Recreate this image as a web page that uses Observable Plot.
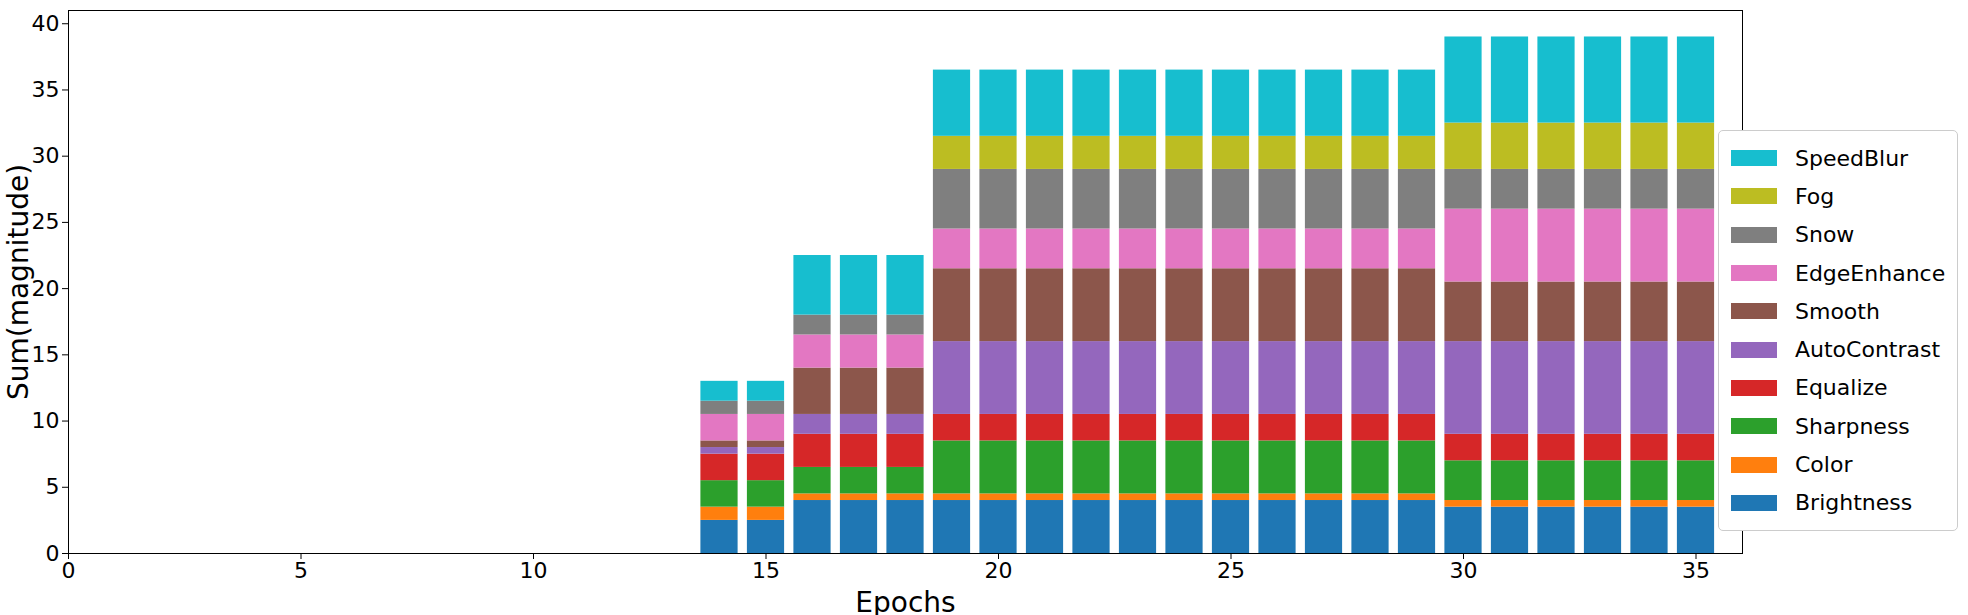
<!DOCTYPE html>
<html><head><meta charset="utf-8">
<script src="https://cdn.jsdelivr.net/npm/d3@7"></script>
<script src="https://cdn.jsdelivr.net/npm/@observablehq/plot@0.6"></script>
<style>
body{margin:0;background:#fff;font-family:"DejaVu Sans",sans-serif}
#wrap{position:relative;width:1968px;height:615px}
#legend{position:absolute;left:1718px;top:130px;border:1px solid #ccc;border-radius:5px;padding:8px 12px;background:#fff;font-size:22px}
#legend div{display:flex;align-items:center;height:38.3px}
#legend span.sw{width:46px;height:16px;margin-right:18px;display:inline-block}
</style></head><body>
<div id="wrap"><div id="chart"></div><div id="legend"></div></div>
<script>
const categories = ['Brightness','Color','Sharpness','Equalize','AutoContrast','Smooth','EdgeEnhance','Snow','Fog','SpeedBlur'];
const colors = ['#1f77b4','#ff7f0e','#2ca02c','#d62728','#9467bd','#8c564b','#e377c2','#7f7f7f','#bcbd22','#17becf'];
const epochs = d3.range(14, 36);
// magnitude per category, by epoch group
const phaseA = [2.5, 1, 2, 2, 0.5, 0.5, 2, 1, 0, 1.5];      // 14-15
const phaseB = [4, 0.5, 2, 2.5, 1.5, 3.5, 2.5, 1.5, 0, 4.5]; // 16-18
const phaseC = [4, 0.5, 4, 2, 5.5, 5.5, 3, 4.5, 2.5, 5];     // 19-29
const phaseD = [3.5, 0.5, 3, 2, 7, 4.5, 5.5, 3, 3.5, 6.5];   // 30-35

function valuesFor(e) {
  return e <= 15 ? phaseA : e <= 18 ? phaseB : e <= 29 ? phaseC : phaseD;
}

const rows = [];
for (const e of epochs) {
  let acc = 0;
  valuesFor(e).forEach((v, i) => {
    rows.push({epoch: e, cat: categories[i], y1: acc, y2: acc + v});
    acc += v;
  });
}

const chart = Plot.plot({
  width: 1968, height: 615,
  marginLeft: 68, marginRight: 226, marginTop: 10, marginBottom: 62,
  style: {fontSize: '22px', fontFamily: '"DejaVu Sans", sans-serif', color: '#000'},
  x: {domain: [0, 36], ticks: d3.range(0, 36, 5), label: 'Epochs', labelAnchor: 'center', labelArrow: 'none', labelOffset: 58, tickSize: 6},
  y: {domain: [0, 41], ticks: d3.range(0, 41, 5), label: 'Sum(magnitude)', labelAnchor: 'center', labelArrow: 'none', labelOffset: 60, tickSize: 6},
  color: {domain: categories, range: colors},
  marks: [
    Plot.rect(rows, {x1: d => d.epoch - 0.4, x2: d => d.epoch + 0.4, y1: 'y1', y2: 'y2', fill: 'cat'}),
    Plot.frame({stroke: '#000'})
  ]
});
document.getElementById('chart').append(chart);
chart.querySelectorAll('[aria-label="x-axis label"] text, [aria-label="y-axis label"] text').forEach(t => t.style.fontSize = '28px');

const leg = document.getElementById('legend');
categories.slice().reverse().forEach(c => {
  const d = document.createElement('div');
  d.innerHTML = `<span class="sw" style="background:${colors[categories.indexOf(c)]}"></span>${c}`;
  leg.append(d);
});
</script></body></html>
